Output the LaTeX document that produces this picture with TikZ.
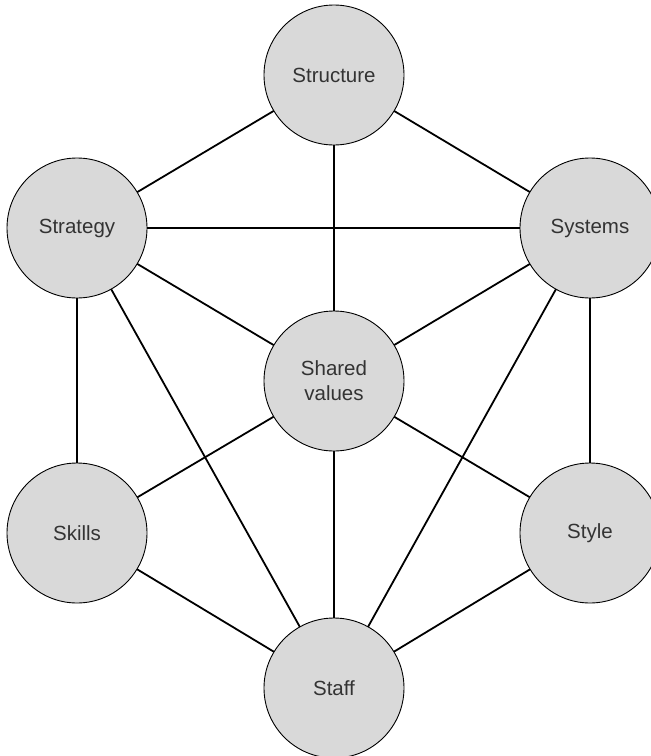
\documentclass[tikz,border=0pt]{standalone}
\usepackage{fontspec}
\setmainfont{Liberation Sans}
\begin{document}
\begin{tikzpicture}[x=1pt,y=-1pt,
  element/.style={circle, draw=black, line width=0.9pt, fill=black!15,
    minimum size=140pt, inner sep=0pt, align=center,
    font=\fontsize{20.5}{25}\selectfont, text=black!80},
  link/.style={line width=1.8pt, black}]
  \useasboundingbox (0,0) rectangle (651,756);
  % the seven elements
  \coordinate (pStructure) at (334,75);
  \coordinate (pStrategy) at (77,228);
  \coordinate (pSystems) at (590,228);
  \coordinate (pShared) at (334,381);
  \coordinate (pSkills) at (77,533);
  \coordinate (pStyle) at (590,533);
  \coordinate (pStaff) at (334,688);
  % links, drawn first so that the circles cover their ends
  \foreach \a/\b in {Structure/Strategy, Structure/Systems, Structure/Shared,
      Strategy/Systems, Strategy/Shared, Strategy/Skills, Strategy/Staff,
      Systems/Shared, Systems/Style, Systems/Staff,
      Shared/Skills, Shared/Style, Shared/Staff,
      Skills/Staff, Style/Staff}
    \draw[link] (p\a) -- (p\b);
  \node[element] (structure) at (pStructure) {Structure};
  \node[element] (strategy) at (pStrategy) {Strategy};
  \node[element] (systems) at (pSystems) {Systems};
  \node[element] (shared) at (pShared) {Shared\\values};
  \node[element] (skills) at (pSkills) {Skills};
  \node[element] (style) at (pStyle) {Style};
  \node[element] (staff) at (pStaff) {Staff};
\end{tikzpicture}
\end{document}
